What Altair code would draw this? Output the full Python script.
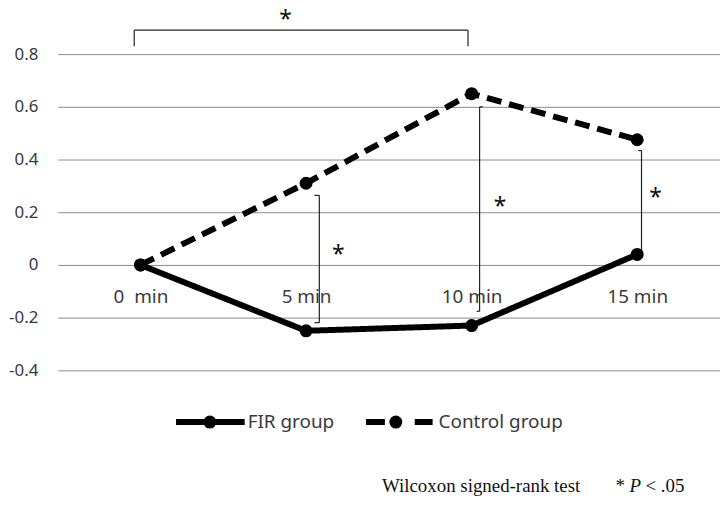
import json
import altair as alt
import pandas as pd

# ---------------- data ----------------
times = [0, 5, 10, 15]
time_labels = ["0\u00a0\u00a0min", "5 min", "10 min", "15 min"]
groups = ["FIR group", "Control group"]
fir_values = [0.0, -0.25, -0.23, 0.04]
control_values = [0.0, 0.31, 0.65, 0.475]
y_ticks = [-0.4, -0.2, 0, 0.2, 0.4, 0.6, 0.8]

# significance brackets (in data units: minutes, value)
bracket_paths = [
    [(-0.19, 0.83), (-0.19, 0.891), (9.89, 0.891), (9.89, 0.83)],
    [(5.25, 0.264), (5.40, 0.264), (5.40, -0.219), (5.25, -0.219)],
    [(10.34, 0.60), (10.24, 0.60), (10.24, -0.176), (10.15, -0.176)],
    [(15.03, 0.434), (15.13, 0.434), (15.13, 0.05)],
]
star_minutes = [4.38, 5.97, 10.86, 15.55]
star_values = [0.95, 0.057, 0.238, 0.272]

footnote_left = "Wilcoxon signed-rank test"
footnote_star = "*"
footnote_p = "P"
footnote_rest = "< .05"

# ---------------- tables ----------------
df = pd.DataFrame({
    "minute": times * 2,
    "value": fir_values + control_values,
    "group": [groups[0]] * len(times) + [groups[1]] * len(times),
})

seg_rows = []
for path in bracket_paths:
    for (x1, y1), (x2, y2) in zip(path[:-1], path[1:]):
        seg_rows.append({"minute": x1, "value": y1, "minute2": x2, "value2": y2})
seg_df = pd.DataFrame(seg_rows)

star_df = pd.DataFrame({"minute": star_minutes, "value": star_values, "t": ["*"] * len(star_minutes)})

FONT = "Noto Sans"
TXT = "#3a3a3a"

label_expr = "%s[round(datum.value / 5)]" % json.dumps(time_labels)

x_scale = alt.Scale(domain=[-2.5, 17.5], nice=False, zero=False)
y_scale = alt.Scale(domain=[-0.4, 0.8], nice=False, zero=False)

x_axis = alt.Axis(values=times, labelExpr=label_expr, title=None, offset=-83,
                  domain=False, ticks=False, tickSize=0, grid=False,
                  labelPadding=0, labelFont=FONT, labelFontSize=19,
                  labelColor=TXT, labelBaseline="top")
y_axis = alt.Axis(values=y_ticks, labelExpr="'' + round(datum.value * 10) / 10",
                  title=None, domain=False, ticks=False, tickSize=0, grid=True,
                  gridColor="#8a8a8a", gridWidth=1, labelPadding=20,
                  labelFont=FONT, labelFontSize=17, labelColor=TXT)

X = alt.X("minute:Q", scale=x_scale, axis=x_axis)
Y = alt.Y("value:Q", scale=y_scale, axis=y_axis)

DASHES = [[1, 0], [15, 8]]

lines = alt.Chart(df).mark_line(color="black", strokeWidth=6).encode(
    x=X, y=Y,
    detail="group:N",
    strokeDash=alt.StrokeDash("group:N",
                              scale=alt.Scale(domain=groups, range=DASHES),
                              legend=None),
)

points = alt.Chart(df).mark_circle(color="black", size=170, opacity=1).encode(x=X, y=Y)

brackets = alt.Chart(seg_df).mark_rule(color="#222222", strokeWidth=1.2).encode(
    x=X, y=Y, x2="minute2:Q", y2="value2:Q"
)

stars = alt.Chart(star_df).mark_text(font=FONT, fontSize=23, color="#111111",
                                     baseline="alphabetic", dy=12).encode(
    x=X, y=Y, text="t:N"
)


def one(text=""):
    return alt.Chart(pd.DataFrame({"t": [text]}))


# ---- legend (drawn as marks below the plot) ----
LEG_Y = 370


def legend_entry(label, x_left, x_right, x_dot, x_text, dash):
    line = one().mark_rule(color="black", strokeWidth=6, strokeDash=dash).encode(
        x=alt.value(x_left), x2=alt.value(x_right), y=alt.value(LEG_Y))
    dot = one().mark_circle(color="black", size=170, opacity=1).encode(
        x=alt.value(x_dot), y=alt.value(LEG_Y))
    txt = one(label).mark_text(font=FONT, fontSize=19, color=TXT, align="left",
                               baseline="middle").encode(
        x=alt.value(x_text), y=alt.value(LEG_Y), text="t:N")
    return line + dot + txt


legend = (legend_entry(groups[0], 119, 188, 153, 191, [1, 0])
          + legend_entry(groups[1], 310, 377, 340, 383, [19, 30, 18, 100]))


def note(text, px, py, style="normal"):
    return one(text).mark_text(
        font="Liberation Serif", fontSize=19, color="#111111", align="left",
        baseline="alphabetic", fontStyle=style
    ).encode(x=alt.value(px), y=alt.value(py), text="t:N")


notes = (note(footnote_left, 326, 440) + note(footnote_star, 561, 440)
         + note(footnote_p, 575, 440, "italic") + note(footnote_rest, 591, 440))

chart = alt.layer(brackets, lines, points, stars, legend, notes).properties(
    width=666, height=318,
    autosize=alt.AutoSizeParams(type="none"),
    padding={"left": 50, "top": 45, "right": 0, "bottom": 127},
    background="white",
).configure_view(strokeWidth=0)

chart.save("out.html", embed_options={"renderer": "svg", "actions": False})
